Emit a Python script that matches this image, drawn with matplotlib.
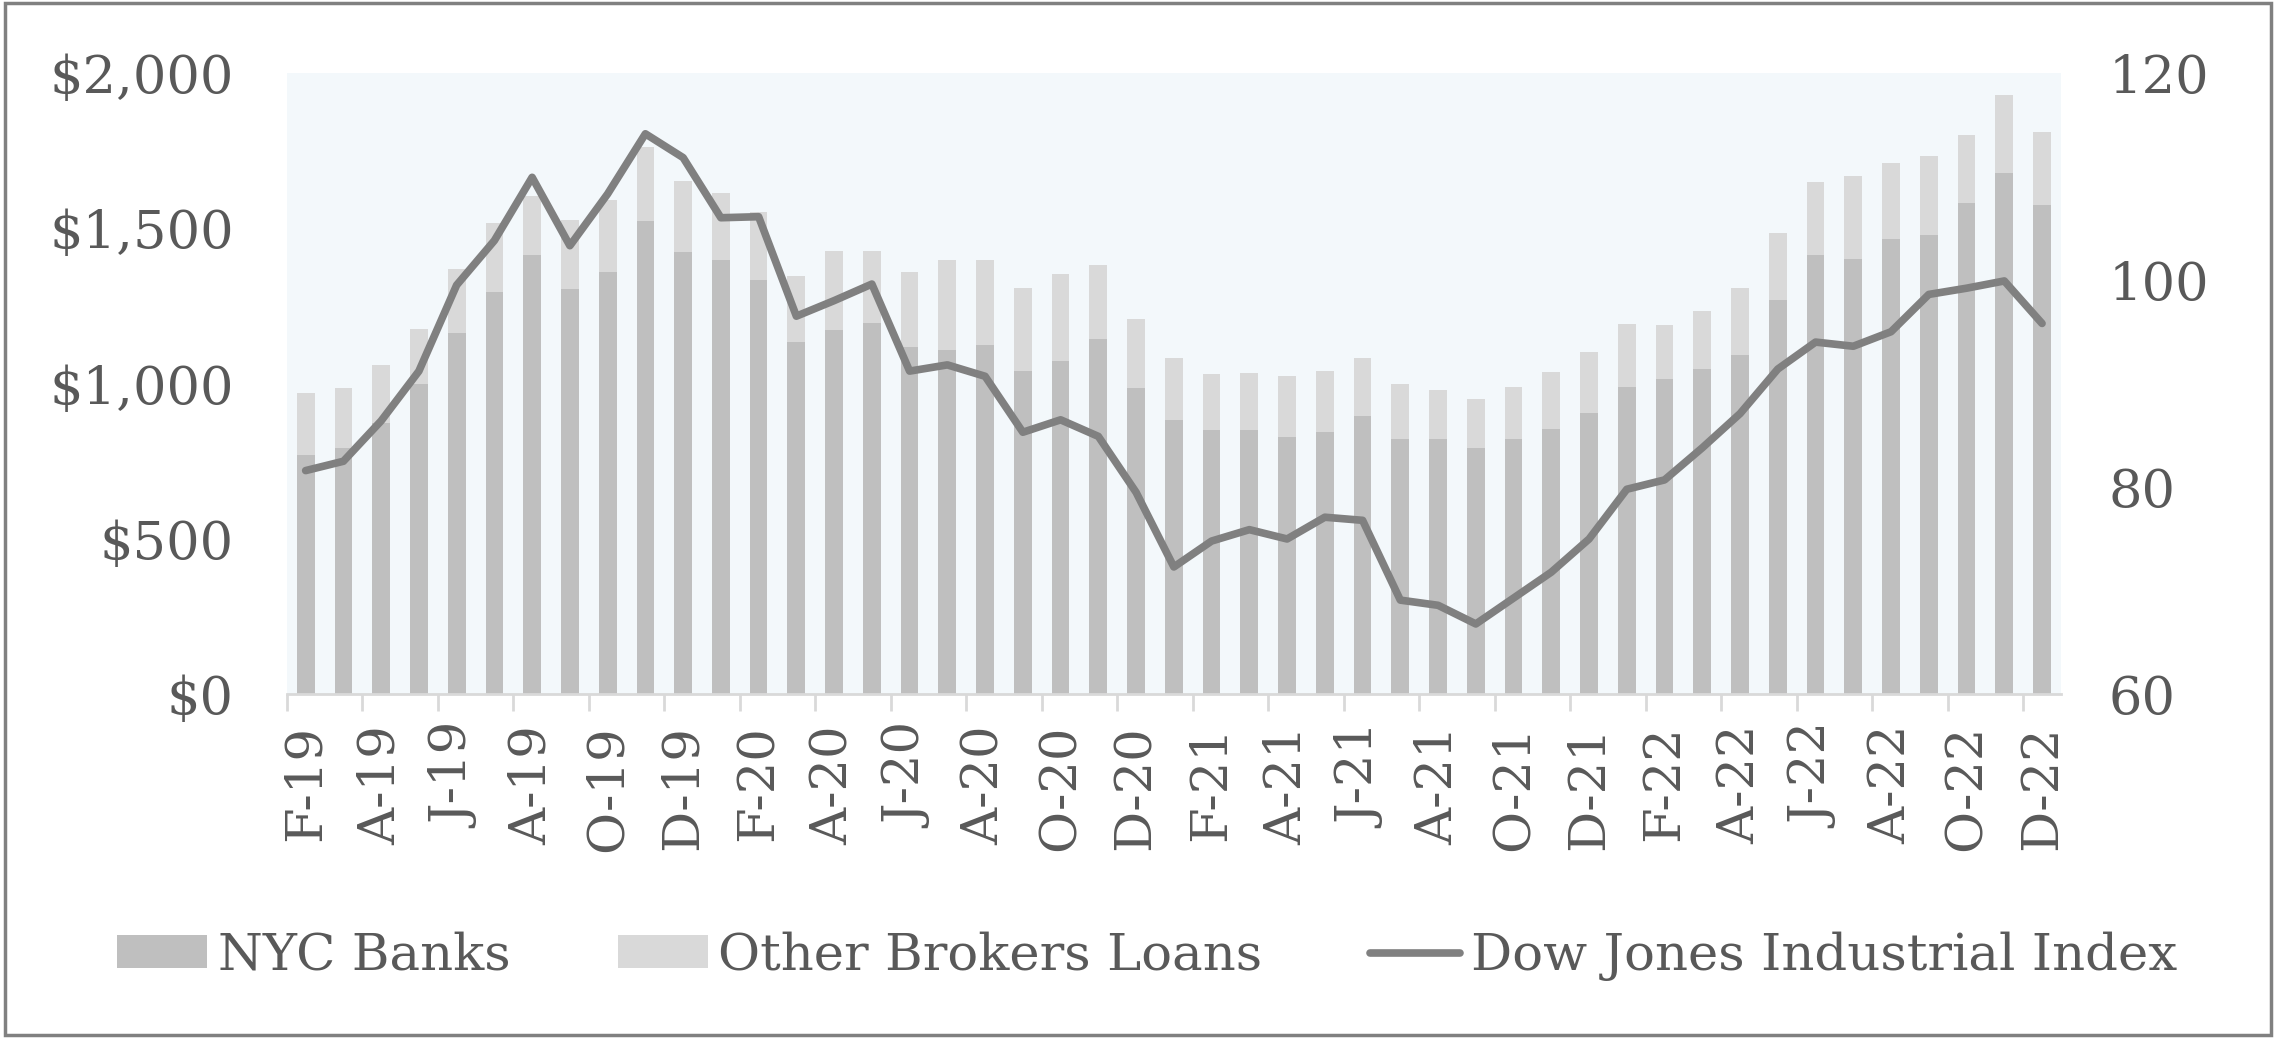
import numpy as np
import matplotlib.pyplot as plt
from matplotlib.patches import Rectangle

# 월별 라벨 (2019년 2월 ~ 2022년 12월)
letters = "JFMAMJJASOND"
months = [f"{letters[(m - 1) % 12]}-{19 + (m - 1) // 12}" for m in range(2, 49)]

nyc_banks = [769, 794, 874, 997, 1162, 1294, 1413, 1305, 1360, 1524,
             1423, 1396, 1332, 1134, 1173, 1195, 1117, 1107, 1123, 1039,
             1071, 1143, 985, 884, 851, 851, 829, 845, 895, 821,
             823, 793, 820, 854, 904, 990, 1015, 1048, 1093, 1270,
             1413, 1402, 1465, 1477, 1580, 1677, 1575]
other_brokers = [202, 192, 186, 177, 207, 221, 189, 222, 230, 236,
                 229, 218, 221, 211, 252, 231, 243, 291, 275, 267,
                 280, 238, 221, 197, 181, 184, 195, 196, 188, 179,
                 156, 156, 170, 184, 198, 202, 174, 186, 213, 215,
                 236, 266, 244, 256, 219, 252, 233]
dow_index = [81.6, 82.5, 86.4, 91.2, 99.5, 103.8, 109.9, 103.3, 108.3, 114.1,
             111.8, 106.0, 106.1, 96.5, 98.0, 99.6, 91.2, 91.8, 90.7, 85.3,
             86.5, 84.9, 79.5, 72.3, 74.8, 75.9, 75.0, 77.1, 76.8, 69.1,
             68.6, 66.8, 69.3, 71.8, 75.0, 79.8, 80.7, 83.8, 87.1, 91.4,
             94.0, 93.6, 95.0, 98.6, 99.2, 99.9, 95.8]

text_color = "#595959"
plt.rcParams['font.family'] = ['DejaVu Serif']

fig = plt.figure(figsize=(22.76, 10.38), dpi=100)
ax = fig.add_axes([0.126, 0.331, 0.7795, 0.599])
ax.set_facecolor("#f3f8fb")

x = np.arange(len(months))
ax.bar(x, nyc_banks, width=0.47, color="#bfbfbf", label="NYC Banks", zorder=2)
ax.bar(x, other_brokers, width=0.47, bottom=nyc_banks, color="#d9d9d9",
       label="Other Brokers Loans", zorder=2)

ax.set_xlim(-0.5, len(months) - 0.5)
ax.set_ylim(0, 2000)
ax.set_yticks([0, 500, 1000, 1500, 2000])
ax.set_yticklabels(["$0", "$500", "$1,000", "$1,500", "$2,000"])
ax.set_xticks(x[::2])
ax.set_xticklabels(months[::2], rotation=90)
ax.set_xticks(np.arange(-0.5, len(months) - 1, 2), minor=True)
ax.tick_params(axis='x', which='major', length=0, pad=22, labelsize=37, colors=text_color)
ax.tick_params(axis='x', which='minor', length=12, width=2, color="#d9d9d9")
ax.tick_params(axis='y', length=0, pad=38, labelsize=38, colors=text_color)

for s in ["top", "left", "right"]:
    ax.spines[s].set_visible(False)
ax.spines["bottom"].set_color("#d9d9d9")
ax.spines["bottom"].set_linewidth(2)

ax2 = ax.twinx()
ax2.plot(x, dow_index, color="#808080", lw=5.5, solid_capstyle="round",
         solid_joinstyle="round", label="Dow Jones Industrial Index", zorder=3)
ax2.set_ylim(60, 120)
ax2.set_yticks([60, 80, 100, 120])
ax2.tick_params(axis='y', length=0, pad=34, labelsize=38, colors=text_color)
for s in ax2.spines.values():
    s.set_visible(False)

h1, l1 = ax.get_legend_handles_labels()
h2, l2 = ax2.get_legend_handles_labels()
leg = fig.legend(h1 + h2, l1 + l2, loc="center", bbox_to_anchor=(0.504, 0.079),
                 ncol=3, frameon=False, fontsize=37, handlelength=1.75,
                 handleheight=0.6, handletextpad=0.2, columnspacing=2.1)
for t in leg.get_texts():
    t.set_color(text_color)

# 바깥 테두리
fig.patches.append(Rectangle((0.002, 0.003), 0.996, 0.994, transform=fig.transFigure,
                             fill=False, edgecolor="#808080", lw=2.5))

plt.savefig("out.png", dpi=100)
